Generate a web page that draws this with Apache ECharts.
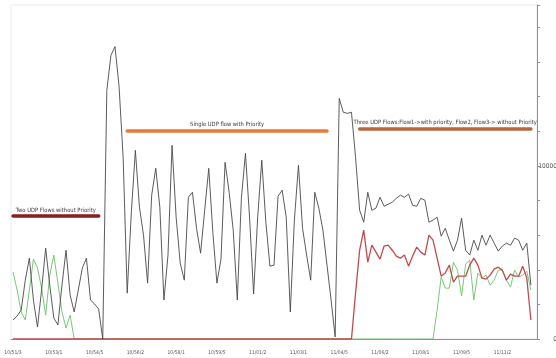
<!DOCTYPE html>
<html>
<head>
<meta charset="utf-8">
<script src="https://cdn.jsdelivr.net/npm/echarts@6/dist/echarts.min.js"></script>
<style>
  html, body { margin: 0; padding: 0; background: #fff; }
  #chart { width: 556px; height: 358px; }
</style>
</head>
<body>
<div id="chart"></div>
<script>
// time stamps shown under every 10th sample
const tickLabels = ['10/51/3', '10/53/1', '10/54/5', '10/56/2', '10/58/1', '10/59/5',
  '11/01/2', '11/03/1', '11/04/5', '11/06/2', '11/08/1', '11/09/5', '11/11/2'];

// one sample per category (129 samples)
const categories = Array.from({ length: 129 }, (_, i) => i);

// total throughput (black)
const flowTotal = [
  1100, 1330, 1670, 3400, 4670, 2250, 690, 2830, 5250, 3115,
  1210, 810, 3115, 5130, 2540, 1560, 2830, 4100, 4670, 2250,
  2020, 1730, 0, 14370, 16380, 16900, 14600, 10500, 2650, 7270,
  10900, 7615, 6000, 3230, 8310, 9865, 7615, 2250, 4850, 11190,
  7040, 4385, 3400, 8190, 8480, 6400, 4960, 7440, 9865, 6170,
  3230, 4615, 10210, 8480, 6290, 2250, 8130, 10730, 7040, 2600,
  7040, 10330, 6750, 4210, 4270, 8250, 8600, 7040, 1560, 6870,
  10040, 6400, 4850, 3400, 8480, 7560, 6290, 4270, 2250, 120,
  13900, 13100, 13040, 13100, 10500, 7440, 6750, 8480, 7440, 7560,
  8190, 7670, 7790, 7900, 8130, 8310, 8190, 8370, 7730, 7670,
  8130, 8020, 6750, 6870, 7040, 5940, 6400, 5710, 5080, 5710,
  6980, 5130, 4850, 5710, 5130, 6000, 5420, 6000, 5540, 5080,
  5370, 5540, 5420, 5830, 5710, 5130, 5540, 3115, null
];

// flow with priority (red)
const flowPriority = [
  0, 0, 0, 0, 0, 0, 0, 0, 0, 0,
  0, 0, 0, 0, 0, 0, 0, 0, 0, 0,
  0, 0, 0, 0, 0, 0, 0, 0, 0, 0,
  0, 0, 0, 0, 0, 0, 0, 0, 0, 0,
  0, 0, 0, 0, 0, 0, 0, 0, 0, 0,
  0, 0, 0, 0, 0, 0, 0, 0, 0, 0,
  0, 0, 0, 0, 0, 0, 0, 0, 0, 0,
  0, 0, 0, 0, 0, 0, 0, 0, 0, 0,
  0, 0, 0, 0, 2650, 5130, 6290, 4440, 5420, 5020,
  4615, 5370, 5420, 5130, 4790, 4670, 4850, 4210, 4790, 5310,
  5020, 4850, 6000, 5710, 4670, 3630, 3810, 4270, 3290, 3630,
  3630, 3630, 4270, 4670, 4270, 3520, 3460, 3690, 4040, 4150,
  3980, 3400, 3750, 3630, 3630, 4210, 3520, 1100, null
];

// flow without priority (green)
const flowNoPriority = [
  3870, 2830, 1560, 1100, 2830, 4615, 4100, 2940, 1385, 3690,
  4850, 3230, 1560, 635, 1385, 0, 0, 0, 0, 0,
  0, 0, 0, 0, 0, 0, 0, 0, 0, 0,
  0, 0, 0, 0, 0, 0, 0, 0, 0, 0,
  0, 0, 0, 0, 0, 0, 0, 0, 0, 0,
  0, 0, 0, 0, 0, 0, 0, 0, 0, 0,
  0, 0, 0, 0, 0, 0, 0, 0, 0, 0,
  0, 0, 0, 0, 0, 0, 0, 0, 0, 0,
  0, 0, 0, 0, 0, 0, 0, 0, 0, 0,
  0, 0, 0, 0, 0, 0, 0, 0, 0, 0,
  0, 0, 0, 0, 1670, 3580, 2940, 2940, 4440, 3980,
  2480, 4330, 4560, 2250, 3810, 3520, 3690, 3115, 3400, 3980,
  3980, 3400, 3000, 3980, 3580, 3690, 3920, 2830, null
];

// phase captions: [text, first sample, last sample, level]
const phases = [
  ['Two UDP Flows without Priority', 0, 21, 7100],
  ['Single UDP flow with Priority', 28, 77, 12060],
  ['Three UDP Flows:Flow1->with priority, Flow2, Flow3-> without Priority', 85, 127, 12150]
];
const phaseColors = ['#8b1c1f', '#e57b35', '#b5683e'];

const narrowFont = "'Liberation Sans Narrow', 'DejaVu Sans Condensed', sans-serif";
const axisColor = '#8f8f8f';

const chart = echarts.init(document.getElementById('chart'), null, { renderer: 'canvas' });

const phaseLines = phases.map((p, i) => [
  {
    coord: [p[1], p[3]],
    lineStyle: { color: phaseColors[i], width: 3.5, type: 'solid', cap: 'round' },
    label: {
      show: true,
      position: 'insideMiddleTop',
      distance: 3,
      formatter: p[0],
      color: '#3a3a3a',
      fontSize: 5.8,
      fontFamily: narrowFont
    }
  },
  { coord: [p[2], p[3]] }
]);

chart.setOption({
  animation: false,
  backgroundColor: '#ffffff',
  grid: {
    left: 11, right: 19, top: 5, bottom: 19,
    outerBoundsMode: 'none',
    containLabel: false,
    show: true, borderColor: '#ebebeb', borderWidth: 1
  },
  xAxis: {
    type: 'category',
    data: categories,
    boundaryGap: true,
    axisLine: { lineStyle: { color: axisColor, width: 1 } },
    axisTick: { interval: 0, length: 3, lineStyle: { color: axisColor } },
    axisLabel: {
      interval: 9,
      margin: 11,
      fontSize: 5,
      color: '#555',
      fontFamily: narrowFont,
      formatter: (v, i) => tickLabels[i / 10] || ''
    },
    splitLine: { show: false }
  },
  yAxis: {
    type: 'value',
    position: 'right',
    min: 0,
    max: 19300,
    interval: 2000,
    axisLine: { show: true, lineStyle: { color: axisColor, width: 1 } },
    axisTick: { show: true, length: 3, lineStyle: { color: axisColor } },
    splitLine: { show: false },
    axisLabel: {
      align: 'right',
      margin: 20,
      fontSize: 6.5,
      color: '#555',
      fontFamily: narrowFont,
      formatter: v => (v === 0 || v === 10000) ? String(v) : ''
    }
  },
  series: [
    {
      name: 'Flow3',
      type: 'line',
      data: flowNoPriority,
      symbol: 'none',
      lineStyle: { color: '#78c878', width: 1 },
      itemStyle: { color: '#78c878' },
      z: 2
    },
    {
      name: 'Flow2',
      type: 'line',
      data: flowPriority,
      symbol: 'none',
      lineStyle: { color: '#c24a4c', width: 1.3 },
      itemStyle: { color: '#c24a4c' },
      z: 3
    },
    {
      name: 'Flow1',
      type: 'line',
      data: flowTotal,
      symbol: 'none',
      lineStyle: { color: '#4a4a4a', width: 0.9 },
      itemStyle: { color: '#4a4a4a' },
      z: 4,
      markLine: {
        silent: true,
        animation: false,
        symbol: ['none', 'none'],
        data: phaseLines
      }
    }
  ]
});
</script>
</body>
</html>
